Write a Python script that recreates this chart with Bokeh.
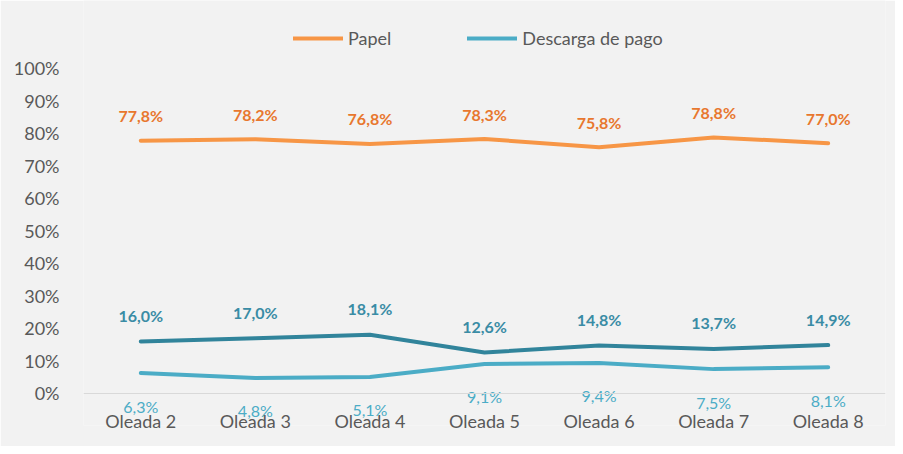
from bokeh.plotting import figure
from bokeh.models import (ColumnDataSource, FactorRange, Range1d, Legend, LegendItem,
                          PrintfTickFormatter, FixedTicker, Span)
from bokeh.core.properties import value
from bokeh.embed import file_html
from bokeh.resources import INLINE

categories = ["Oleada 2", "Oleada 3", "Oleada 4", "Oleada 5", "Oleada 6", "Oleada 7", "Oleada 8"]
papel = [77.8, 78.2, 76.8, 78.3, 75.8, 78.8, 77.0]
descarga_gratuita = [16.0, 17.0, 18.1, 12.6, 14.8, 13.7, 14.9]
descarga_pago = [6.3, 4.8, 5.1, 9.1, 9.4, 7.5, 8.1]
y_ticks = [0, 10, 20, 30, 40, 50, 60, 70, 80, 90, 100]

FONT = "Lato"
BG = "#F2F2F2"

def fmt(vals):
    return [f"{v:.1f}%".replace(".", ",") for v in vals]

p = figure(x_range=FactorRange(*categories, range_padding=0), y_range=Range1d(-9.846, 120.92),
           width=895, height=446, output_backend="svg", toolbar_location=None,
           min_border_left=83, min_border_right=10, min_border_top=0, min_border_bottom=21)
p.background_fill_color = BG
p.border_fill_color = BG
p.outline_line_color = None
p.xgrid.grid_line_color = None
p.ygrid.grid_line_color = None

# axes
p.yaxis.ticker = FixedTicker(ticks=y_ticks)
p.yaxis.formatter = PrintfTickFormatter(format="%d%%")
p.yaxis.axis_line_color = None
p.yaxis.major_tick_line_color = None
p.yaxis.minor_tick_line_color = None
p.yaxis.major_tick_out = 0
p.yaxis.major_label_standoff = 24
p.xaxis.axis_line_color = None
p.xaxis.major_tick_line_color = None
p.xaxis.minor_tick_line_color = None
p.xaxis.major_tick_out = 0
p.xaxis.major_label_standoff = -16
for ax in (p.xaxis, p.yaxis):
    ax.major_label_text_font = FONT
    ax.major_label_text_font_size = "18px"
    ax.major_label_text_color = "#595959"

p.add_layout(Span(location=0, dimension="width", line_color="#D9D9D9", line_width=1))

src = ColumnDataSource(dict(x=categories, papel=papel, gratis=descarga_gratuita, pago=descarga_pago,
                            papel_lbl=fmt(papel), gratis_lbl=fmt(descarga_gratuita), pago_lbl=fmt(descarga_pago)))

l_papel = p.line("x", "papel", source=src, line_color="#F79646", line_width=4,
                 line_join="round", line_cap="round")
l_gratis = p.line("x", "gratis", source=src, line_color="#31849B", line_width=4,
                  line_join="round", line_cap="round")
l_pago = p.line("x", "pago", source=src, line_color="#4BACC6", line_width=4,
                line_join="round", line_cap="round")

p.text("x", "papel", text="papel_lbl", source=src, y_offset=-25, text_align="center",
       text_baseline="middle", text_font=value(FONT), text_font_size="16px",
       text_font_style="bold", text_color="#E8772E")
p.text("x", "gratis", text="gratis_lbl", source=src, y_offset=-26, text_align="center",
       text_baseline="middle", text_font=value(FONT), text_font_size="16px",
       text_font_style="bold", text_color="#3A8CA5")
p.text("x", "pago", text="pago_lbl", source=src, y_offset=33, text_align="center",
       text_baseline="middle", text_font=value(FONT), text_font_size="16px",
       text_color="#4BACC6")

legend = Legend(items=[LegendItem(label="Papel", renderers=[l_papel]),
                       LegendItem(label="Descarga de pago", renderers=[l_pago])],
                location=(210, 376), orientation="horizontal",
                glyph_width=50, glyph_height=20, label_standoff=5, spacing=76,
                padding=0, margin=0, border_line_color=None, background_fill_alpha=0,
                label_text_font=FONT, label_text_font_size="18px", label_text_color="#595959")
p.add_layout(legend, "center")

open("out.html", "w").write(file_html(p, INLINE))
